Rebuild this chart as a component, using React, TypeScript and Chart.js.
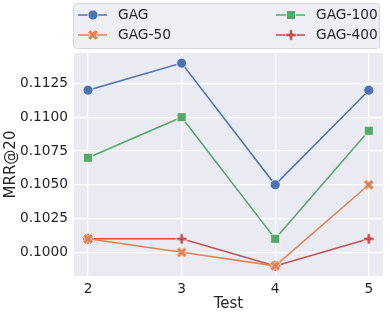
import { useEffect, useRef } from "react";
import { Chart, registerables } from "chart.js";
Chart.register(...registerables);

const tests = [2, 3, 4, 5];
const gag = [0.112, 0.114, 0.105, 0.112];
const gag50 = [0.101, 0.1, 0.099, 0.105];
const gag100 = [0.107, 0.11, 0.101, 0.109];
const gag400 = [0.101, 0.101, 0.099, 0.101];
const xTicks = [2, 3, 4, 5];
const yTicks = [0.1, 0.1025, 0.105, 0.1075, 0.11, 0.1125];
const names = ["GAG", "GAG-50", "GAG-100", "GAG-400"];
const colors = ["#4C72B0", "#DD8452", "#55A868", "#C44E52"];

const FONT = "DejaVu Sans";
const TXT = "#262626";

function makeMarker(kind: string, color: string): HTMLCanvasElement {
  const c = document.createElement("canvas");
  c.width = 14;
  c.height = 14;
  const ctx = c.getContext("2d")!;
  ctx.translate(7, 7);
  const s = 5.2;
  const w = 1.75;
  let pts: number[][] = [
    [-w, -s], [w, -s], [w, -w], [s, -w], [s, w], [w, w],
    [w, s], [-w, s], [-w, w], [-s, w], [-s, -w], [-w, -w],
  ];
  if (kind === "x") {
    const k = 1.08;
    const a = Math.PI / 4;
    pts = pts.map(([x, y]) => [
      k * (x * Math.cos(a) - y * Math.sin(a)),
      k * (x * Math.sin(a) + y * Math.cos(a)),
    ]);
  }
  ctx.beginPath();
  pts.forEach(([x, y], i) => (i ? ctx.lineTo(x, y) : ctx.moveTo(x, y)));
  ctx.closePath();
  ctx.fillStyle = color;
  ctx.fill();
  ctx.strokeStyle = "rgba(255,255,255,0.9)";
  ctx.lineWidth = 0.75;
  ctx.stroke();
  return c;
}

export default function App() {
  const ref = useRef<HTMLCanvasElement>(null);
  useEffect(() => {
    const xMark = makeMarker("x", colors[1]);
    const pMark = makeMarker("p", colors[3]);
    const styles: any[] = ["circle", xMark, "rect", pMark];
    const radii = [5, 5, 6.4, 5];
    const series = [gag, gag50, gag100, gag400];

    const bg = {
      id: "bg",
      beforeDraw(chart: any) {
        const { ctx, chartArea: a } = chart;
        ctx.save();
        ctx.fillStyle = "#EAEAF2";
        ctx.fillRect(a.left, a.top, a.right - a.left, a.bottom - a.top);
        ctx.restore();
      },
    };

    const legend = {
      id: "customLegend",
      afterDraw(chart: any) {
        const ctx = chart.ctx as CanvasRenderingContext2D;
        ctx.save();
        const bx = 73.5, by = 3.5, bw = 306, bh = 45, r = 3;
        ctx.beginPath();
        ctx.moveTo(bx + r, by);
        ctx.arcTo(bx + bw, by, bx + bw, by + bh, r);
        ctx.arcTo(bx + bw, by + bh, bx, by + bh, r);
        ctx.arcTo(bx, by + bh, bx, by, r);
        ctx.arcTo(bx, by, bx + bw, by, r);
        ctx.closePath();
        ctx.fillStyle = "#EEEEF5";
        ctx.fill();
        ctx.strokeStyle = "#D6D6DE";
        ctx.lineWidth = 1;
        ctx.stroke();
        const pos = [
          [78, 15], [78, 35], [276, 15], [276, 35],
        ];
        names.forEach((n, i) => {
          const [x, y] = pos[i];
          const col = colors[i];
          ctx.strokeStyle = col;
          ctx.lineWidth = 1.5;
          ctx.beginPath();
          ctx.moveTo(x, y);
          ctx.lineTo(x + 29, y);
          ctx.stroke();
          const mx = x + 15;
          const st = styles[i];
          if (st === "circle") {
            ctx.beginPath();
            ctx.arc(mx, y, 5, 0, Math.PI * 2);
            ctx.fillStyle = col;
            ctx.fill();
            ctx.strokeStyle = "#fff";
            ctx.lineWidth = 0.75;
            ctx.stroke();
          } else if (st === "rect") {
            ctx.fillStyle = col;
            ctx.fillRect(mx - 4.5, y - 4.5, 9, 9);
            ctx.strokeStyle = "#fff";
            ctx.lineWidth = 0.75;
            ctx.strokeRect(mx - 4.5, y - 4.5, 9, 9);
          } else {
            ctx.drawImage(st, mx - 7, y - 7);
          }
          ctx.fillStyle = TXT;
          ctx.font = `13.75px "${FONT}"`;
          ctx.textBaseline = "middle";
          ctx.textAlign = "left";
          ctx.fillText(n, x + 40, y + 0.5);
        });
        ctx.restore();
      },
    };

    const chart = new Chart(ref.current!, {
      type: "line",
      data: {
        datasets: series.map((vals, i) => ({
          label: names[i],
          data: vals.map((v, j) => ({ x: tests[j], y: v })),
          borderColor: colors[i],
          backgroundColor: colors[i],
          borderWidth: 1.5,
          pointStyle: styles[i],
          pointRadius: radii[i],
          pointBackgroundColor: colors[i],
          pointBorderColor: "#ffffff",
          pointBorderWidth: 0.75,
          tension: 0,
        })),
      },
      options: {
        animation: false,
        responsive: false,
        events: [],
        layout: { padding: { top: 53, right: 6, left: 0, bottom: 0 } },
        plugins: { legend: { display: false }, tooltip: { enabled: false } },
        scales: {
          x: {
            type: "linear",
            min: 1.85,
            max: 5.15,
            afterBuildTicks: (s: any) => {
              s.ticks = xTicks.map((v) => ({ value: v }));
            },
            afterFit: (s: any) => {
              s.height = 40;
            },
            grid: { color: "#ffffff", lineWidth: 1.2, drawTicks: false },
            border: { display: false },
            ticks: {
              padding: 5,
              color: TXT,
              font: { family: FONT, size: 13.75 },
              callback: (v: any) => String(v),
            },
            title: {
              display: true,
              text: "Test",
              color: TXT,
              font: { family: FONT, size: 15 },
              padding: { top: 0, bottom: 3 },
            },
          },
          y: {
            type: "linear",
            min: 0.09825,
            max: 0.11475,
            afterBuildTicks: (s: any) => {
              s.ticks = yTicks.map((v) => ({ value: v }));
            },
            afterFit: (s: any) => {
              s.width = 74;
            },
            grid: { color: "#ffffff", lineWidth: 1.2, drawTicks: false },
            border: { display: false },
            ticks: {
              padding: 6,
              color: TXT,
              font: { family: FONT, size: 13.75 },
              callback: (v: any) => Number(v).toFixed(4),
            },
            title: {
              display: true,
              text: "MRR@20",
              color: TXT,
              font: { family: FONT, size: 15 },
              padding: { top: 2, bottom: 0 },
            },
          },
        },
      },
      plugins: [bg, legend],
    });
    return () => chart.destroy();
  }, []);

  return (
    <div style={{ position: "absolute", left: 0, top: 0, width: 390, height: 316, background: "#fff" }}>
      <canvas ref={ref} width={390} height={316} style={{ display: "block" }} />
    </div>
  );
}
